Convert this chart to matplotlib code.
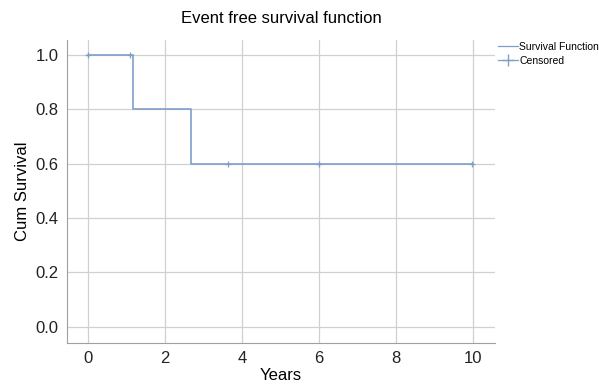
import matplotlib
matplotlib.use("Agg")
import matplotlib.pyplot as plt
from matplotlib.lines import Line2D

plt.rcParams['font.family'] = ['Liberation Sans', 'DejaVu Sans']

step_times = [0, 1.17, 2.68, 10.0]
step_surv = [1.0, 0.8, 0.6, 0.6]
cens_times = [0.0, 1.09, 3.64, 6.0, 9.97]
cens_surv = [1.0, 1.0, 0.6, 0.6, 0.6]
xticks = [0, 2, 4, 6, 8, 10]
yticks = [0.0, 0.2, 0.4, 0.6, 0.8, 1.0]

color = "#7f9fc8"
fig = plt.figure(figsize=(5.99, 3.88), dpi=100)
ax = fig.add_axes([0.112, 0.116, 0.714, 0.781])
ax.step(step_times, step_surv, where="post", color=color, lw=1.2)
ax.plot(cens_times, cens_surv, linestyle="none", marker="+", color=color, ms=5, mew=0.9)
ax.set_xlim(-0.55, 10.57)
ax.set_ylim(-0.06, 1.055)
ax.set_xticks(xticks)
ax.set_yticks(yticks)
ax.set_yticklabels([f"{v:.1f}" for v in yticks])
ax.grid(True, color="#d0d0d0", lw=0.9)
ax.set_axisbelow(True)
for s in ["top", "right"]:
    ax.spines[s].set_visible(False)
for s in ["left", "bottom"]:
    ax.spines[s].set_color("#a0a0a0")
ax.tick_params(length=0, labelsize=12, colors="#222222", pad=6)
ax.set_xlabel("Years", fontsize=12, labelpad=1)
ax.set_ylabel("Cum Survival", fontsize=12)
ax.set_title("Event free survival function", fontsize=12, pad=12)

h1 = Line2D([], [], color=color, lw=0.9, drawstyle="steps-post")
h2 = Line2D([], [], color=color, lw=0.9, marker="+", ms=8)
leg = fig.legend([h1, h2], ["Survival Function", "Censored"], loc="upper left",
                 bbox_to_anchor=(0.822, 0.905), frameon=False, fontsize=7.5,
                 handlelength=2.0, handletextpad=0.1, labelspacing=0.35, borderpad=0)
fig.savefig("out.png", dpi=100)
